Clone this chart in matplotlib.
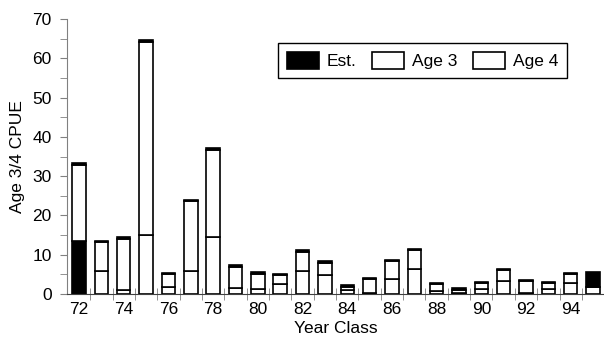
import matplotlib
matplotlib.use("Agg")
import matplotlib.pyplot as plt
import numpy as np
from matplotlib.ticker import FixedLocator, MultipleLocator

plt.rcParams['font.family'] = ['Liberation Sans', 'DejaVu Sans']

years = [72, 73, 74, 75, 76, 77, 78, 79, 80, 81, 82, 83,
         84, 85, 86, 87, 88, 89, 90, 91, 92, 93, 94, 95]
est_age3 = [13.6, 0, 0, 0, 0, 0, 0, 0, 0, 0, 0, 0,
            0, 0, 0, 0, 0, 0, 0, 0, 0, 0, 0, 0]
age3 = [0, 5.8, 1.0, 14.9, 1.7, 5.9, 14.4, 1.5, 1.2, 2.6, 5.9, 4.8,
        0.9, 0.3, 3.9, 6.3, 0.8, 0.3, 1.2, 3.4, 0.3, 1.4, 2.8, 1.8]
age4 = [19.3, 7.4, 13.0, 49.3, 3.4, 17.7, 22.2, 5.4, 3.9, 2.3, 4.9, 3.2,
        1.0, 3.6, 4.5, 4.8, 1.8, 0.7, 1.5, 2.8, 3.0, 1.4, 2.3, 0.0]
est_top = [0.4, 0.4, 0.4, 0.4, 0.2, 0.4, 0.5, 0.5, 0.4, 0.3, 0.4, 0.4,
           0.4, 0.2, 0.2, 0.3, 0.3, 0.5, 0.3, 0.2, 0.3, 0.3, 0.3, 3.7]
even_labels = ['72', '74', '76', '78', '80', '82', '84', '86', '88', '90', '92', '94']

x = np.array(years, dtype=float)
e3 = np.array(est_age3)
a3 = np.array(age3)
a4 = np.array(age4)
et = np.array(est_top)

FS = 12.5

fig = plt.figure(figsize=(6.04, 3.37), dpi=100)
ax = fig.add_axes([67/604, 1 - 294/337, 537/604, 275/337])

w = 0.6
kw = dict(width=w, edgecolor='black', linewidth=1.2)
ax.bar(x, e3, bottom=0, color='black', **kw)
ax.bar(x, a3, bottom=e3, color='white', label='Age 3', **kw)
ax.bar(x, a4, bottom=e3 + a3, color='white', label='Age 4', **kw)
ax.bar(x, et, bottom=e3 + a3 + a4, color='black', label='Est.', **kw)

ax.set_xlim(71.46, 95.49)
ax.set_ylim(0, 70)

for s in ['top', 'right']:
    ax.spines[s].set_visible(False)
ax.spines['left'].set_color('#808080')
ax.spines['bottom'].set_color('#404040')

ax.yaxis.set_major_locator(MultipleLocator(10))
ax.yaxis.set_minor_locator(MultipleLocator(5))
ax.tick_params(axis='y', which='both', direction='out', length=5, color='#808080',
               labelsize=FS, pad=6)

even_pos = [float(v) for v in years if v % 2 == 0]
ax.set_xticks(even_pos)
ax.set_xticklabels(even_labels)
ax.xaxis.set_minor_locator(FixedLocator([v + 0.5 for v in years[:-1]]))
ax.tick_params(axis='x', which='major', length=0, labelsize=FS, pad=6)
ax.tick_params(axis='x', which='minor', direction='inout', length=8, color='#808080')

ax.set_xlabel('Year Class', fontsize=FS, labelpad=2.5)
ax.set_ylabel('Age 3/4 CPUE', fontsize=FS, labelpad=5)

handles, labels = ax.get_legend_handles_labels()
order = [labels.index('Est.'), labels.index('Age 3'), labels.index('Age 4')]
leg = ax.legend([handles[i] for i in order], [labels[i] for i in order],
                ncol=3, loc='upper left', bbox_to_anchor=(0.393, 0.913),
                borderaxespad=0, fancybox=False, framealpha=1, edgecolor='black',
                fontsize=FS, handlelength=1.85, handleheight=1.2,
                handletextpad=0.45, columnspacing=0.9, borderpad=0.5)
leg.get_frame().set_linewidth(1.0)

fig.savefig('out.png', dpi=100)
